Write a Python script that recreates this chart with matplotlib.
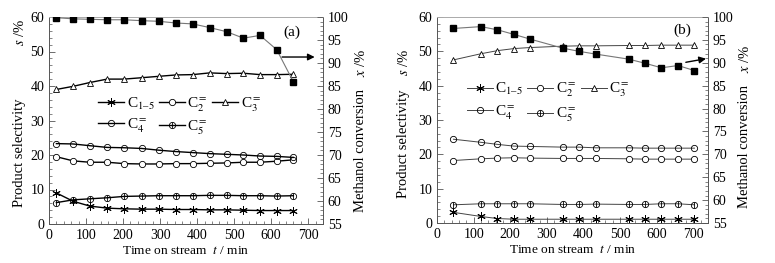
import numpy as np
import matplotlib.pyplot as plt
from matplotlib.legend_handler import HandlerTuple
from matplotlib.ticker import MultipleLocator

plt.rcParams['font.family'] = ['Liberation Serif', 'DejaVu Serif']
plt.rcParams['mathtext.fontset'] = 'stix'
plt.rcParams['font.size'] = 10

# --- panel (a) ---
t_a = [20, 65, 110, 157, 203, 250, 296, 342, 388, 434, 480, 525, 570, 615, 660]
c15_a = [9.0, 6.6, 5.2, 4.6, 4.4, 4.3, 4.3, 4.2, 4.2, 4.1, 4.1, 4.0, 3.9, 3.9, 3.9]
c2_a = [19.5, 18.3, 17.9, 17.9, 17.5, 17.4, 17.4, 17.5, 17.5, 17.6, 17.7, 17.9, 17.9, 18.2, 18.6]
c3_a = [39.0, 39.9, 41.0, 42.0, 42.0, 42.4, 42.8, 43.2, 43.3, 43.8, 43.6, 43.7, 43.3, 43.3, 43.4]
c4_a = [23.3, 23.2, 22.7, 22.2, 22.1, 21.9, 21.4, 21.0, 20.7, 20.4, 20.2, 20.0, 19.7, 19.6, 19.3]
c5_a = [6.2, 7.0, 7.3, 7.6, 8.0, 8.1, 8.2, 8.2, 8.2, 8.3, 8.3, 8.2, 8.2, 8.1, 8.2]
conv_a = [99.85, 99.6, 99.5, 99.4, 99.4, 99.2, 99.07, 98.7, 98.5, 97.7, 96.8, 95.4, 96.0, 92.9, 85.9]

# --- panel (b) ---
t_b = [45, 120, 165, 210, 253, 343, 388, 433, 523, 568, 613, 658, 703]
c15_b = [3.1, 1.9, 1.3, 1.1, 1.1, 1.1, 1.1, 1.1, 1.1, 1.1, 1.1, 1.1, 1.1]
c2_b = [18.2, 18.7, 18.9, 19.0, 18.9, 18.8, 18.8, 18.8, 18.7, 18.6, 18.6, 18.6, 18.6]
c3_b = [47.5, 49.3, 50.2, 50.8, 51.1, 51.5, 51.6, 51.6, 51.7, 51.7, 51.8, 51.8, 51.8]
c4_b = [24.4, 23.5, 22.9, 22.4, 22.3, 22.1, 22.1, 21.9, 21.9, 21.8, 21.8, 21.8, 21.8]
c5_b = [5.3, 5.6, 5.6, 5.6, 5.6, 5.4, 5.4, 5.5, 5.4, 5.4, 5.6, 5.6, 5.3]
conv_b = [97.5, 97.9, 97.2, 96.2, 95.2, 93.2, 92.5, 91.9, 90.8, 89.9, 88.9, 89.4, 88.3]

labels = ['C$_{1\u20135}$', 'C$_2^{=}$', 'C$_3^{=}$', 'C$_4^{=}$', 'C$_5^{=}$']

fig = plt.figure(figsize=(7.75, 2.63), dpi=100)
ax_a = fig.add_axes([49/775, 39/263, 274/775, 207/263])
ax_b = fig.add_axes([437/775, 40/263, 271/775, 206/263])

frame = '#555555'


def draw_panel(ax, t, c15, c2, c3, c4, c5, conv, lw, lc):
    ms = 4.5
    h1, = ax.plot(t, c15, color=lc, lw=lw, marker=(6, 2, 0), ms=6, mec='k', mew=0.7)
    h2, = ax.plot(t, c2, color=lc, lw=lw, marker='o', ms=ms, mfc='white', mec='k', mew=0.6)
    h3, = ax.plot(t, c3, color=lc, lw=lw, marker='^', ms=ms + 0.5, mfc='white', mec='k', mew=0.6)
    h4, = ax.plot(t, c4, color=lc, lw=lw, marker='o', ms=ms, mfc='none', mec='k', mew=0.6)
    h5, = ax.plot(t, c5, color=lc, lw=lw, marker='o', ms=ms, mfc='none', mec='k', mew=0.6)
    h5p, = ax.plot(t, c5, ls='none', marker='|', ms=ms, mec='k', mew=0.6)
    ax.set_xlim(0, 740)
    ax.set_ylim(0, 60)
    ax.xaxis.set_major_locator(MultipleLocator(100))
    ax.xaxis.set_minor_locator(MultipleLocator(20))
    ax.yaxis.set_major_locator(MultipleLocator(10))
    ax.yaxis.set_minor_locator(MultipleLocator(2))
    ax.tick_params(which='both', direction='in', top=False, right=False, colors=frame,
                   labelcolor='k', labelsize=10)
    ax.tick_params(which='major', length=4, width=0.6)
    ax.tick_params(which='minor', length=2, width=0.5)
    for s in ax.spines.values():
        s.set_color(frame)
        s.set_linewidth(0.7)
    ax.spines['top'].set_color('#aaaaaa')
    ax.set_xlabel('Time on stream  $t$ / min', fontsize=9.6, labelpad=2)

    ax2 = ax.twinx()
    ax2.plot(t, conv, color='#777777', lw=0.8, marker='s', ms=3.8, mfc='k', mec='k')
    ax2.set_ylim(55, 100)
    ax2.set_xlim(0, 740)
    ax2.yaxis.set_major_locator(MultipleLocator(5))
    ax2.yaxis.set_minor_locator(MultipleLocator(1))
    ax2.tick_params(which='both', direction='in', colors=frame, labelcolor='k', labelsize=10)
    ax2.tick_params(which='major', length=4, width=0.6)
    ax2.tick_params(which='minor', length=2, width=0.5)
    for s in ax2.spines.values():
        s.set_visible(False)

    # column-major order so rows read C1-5, C2, C3 / C4, C5
    handles = [h1, h4, h2, (h5, h5p), h3]
    hl = [labels[0], labels[3], labels[1], labels[4], labels[2]]
    return ax2, handles, hl


ax2_a, ha, la = draw_panel(ax_a, t_a, c15_a, c2_a, c3_a, c4_a, c5_a, conv_a, 1.0, 'k')
ax2_b, hb, lb = draw_panel(ax_b, t_b, c15_b, c2_b, c3_b, c4_b, c5_b, conv_b, 0.7, '#444444')

for ax2, h, l, anchor, sp in [(ax2_a, ha, la, (0.18, 0.62), 0.3), (ax2_b, hb, lb, (0.11, 0.69), 0.45)]:
    ax2.legend(h, l, ncol=3, loc='upper left', bbox_to_anchor=anchor, frameon=False,
               handlelength=1.7, handletextpad=0.15, columnspacing=0.3, labelspacing=sp,
               borderpad=0, borderaxespad=0, fontsize=11,
               handler_map={tuple: HandlerTuple(ndivide=1)})

# axis titles
fig.text(20/775, 1 - 153/263, 'Product selectivity', rotation=90, ha='center', va='center', fontsize=10.5)
fig.text(20/775, 1 - 32/263, '$s$ /%', rotation=90, ha='center', va='center', fontsize=10.5)
fig.text(361/775, 1 - 150/263, 'Methanol conversion', rotation=90, ha='center', va='center', fontsize=10.5)
fig.text(361/775, 1 - 63/263, '$x$ /%', rotation=90, ha='center', va='center', fontsize=10.5)
fig.text(404/775, 1 - 144/263, 'Product selectivity', rotation=90, ha='center', va='center', fontsize=10.5)
fig.text(404/775, 1 - 62/263, '$s$ /%', rotation=90, ha='center', va='center', fontsize=10.5)
fig.text(745/775, 1 - 147/263, 'Methanol conversion', rotation=90, ha='center', va='center', fontsize=10.5)
fig.text(745/775, 1 - 59/263, '$x$ /%', rotation=90, ha='center', va='center', fontsize=10.5)

ax_a.text(656, 55.5, '(a)', ha='center', va='center', fontsize=11)
ax_b.text(670, 56, '(b)', ha='center', va='center', fontsize=11)

ax2_a.annotate('', xy=(725, 91.3), xytext=(622, 91.3), annotation_clip=False,
               arrowprops=dict(arrowstyle='-|>', color='k', lw=1.0, mutation_scale=10))
ax2_b.annotate('', xy=(742, 91.0), xytext=(672, 90.0), annotation_clip=False,
               arrowprops=dict(arrowstyle='-|>', color='k', lw=1.0, mutation_scale=10))

fig.savefig('out.png', dpi=100)
